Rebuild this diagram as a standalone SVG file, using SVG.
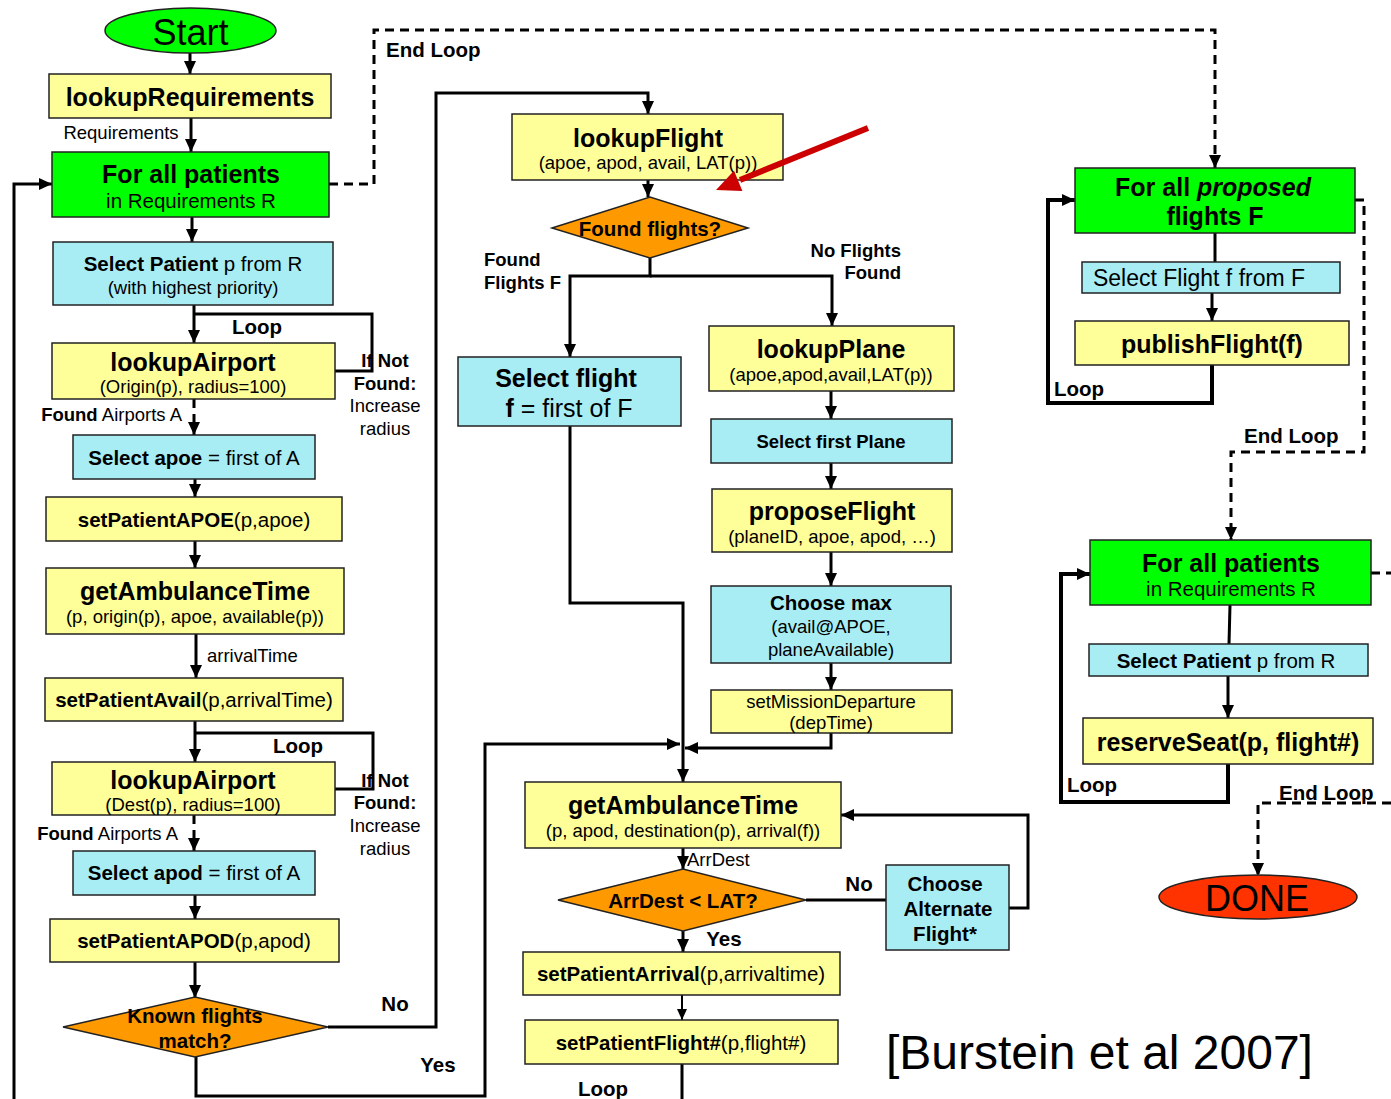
<svg xmlns="http://www.w3.org/2000/svg" width="1391" height="1099" viewBox="0 0 1391 1099">
<style>
text{font-family:"Liberation Sans",Arial,sans-serif;fill:#000;text-anchor:middle}
.b{font-weight:bold}
.n{font-weight:normal}
.f25{font-size:25px}
.f20{font-size:20.5px}
.f18{font-size:18.5px}
.st{font-size:36px}
.lft{text-anchor:start}
.rgt{text-anchor:end}
.box{stroke:#222;stroke-width:1.5}
.y{fill:#FFFF99}
.c{fill:#A9EDF4}
.g{fill:#00FF00}
.o{fill:#FF9900}
.con{fill:none;stroke:#000;stroke-width:3}
.thk{stroke-width:4}
.dash{stroke-dasharray:9 6}
</style>
<defs>
<marker id="ah" markerUnits="userSpaceOnUse" markerWidth="14" markerHeight="12" refX="13" refY="6" orient="auto">
<path d="M0,0 L13,6 L0,12 z" fill="#000"/>
</marker>
<marker id="ahs" markerUnits="userSpaceOnUse" markerWidth="12" markerHeight="10" refX="11" refY="5" orient="auto">
<path d="M0,0 L11,5 L0,10 z" fill="#000"/>
</marker>
</defs>
<rect width="1391" height="1099" fill="#fff"/>

<g id="connectors">
<line class="con" x1="190" y1="53" x2="190" y2="74" marker-end="url(#ah)"/>
<line class="con" x1="191" y1="118" x2="191" y2="152" marker-end="url(#ah)"/>
<line class="con" x1="192" y1="217" x2="192" y2="242" marker-end="url(#ah)"/>
<line class="con" x1="194" y1="305" x2="194" y2="343" marker-end="url(#ah)"/>
<path class="con" d="M194 314 H372 V371 H335"/>
<line class="con dash" x1="194" y1="399" x2="194" y2="435" marker-end="url(#ah)"/>
<line class="con" x1="195" y1="479" x2="195" y2="497" marker-end="url(#ah)"/>
<line class="con" x1="195" y1="541" x2="195" y2="568" marker-end="url(#ah)"/>
<line class="con" x1="196" y1="634" x2="196" y2="678" marker-end="url(#ah)"/>
<line class="con" x1="195" y1="721" x2="195" y2="762" marker-end="url(#ah)"/>
<path class="con" d="M195 733 H373 V789 H335"/>
<line class="con dash" x1="194" y1="815" x2="194" y2="851" marker-end="url(#ah)"/>
<line class="con" x1="195" y1="895" x2="195" y2="919" marker-end="url(#ah)"/>
<line class="con" x1="195" y1="962" x2="195" y2="998" marker-end="url(#ah)"/>
<path class="con" d="M328 1027 H436 V93 H648 V114" marker-end="url(#ah)"/>
<path class="con" d="M196 1057 V1096 H485 V744 H680" marker-end="url(#ah)"/>
<path class="con" d="M14 1099 V184 H52" marker-end="url(#ah)"/>
<path class="con dash" d="M329 184 H374 V30 H1215 V168" marker-end="url(#ah)"/>
<line class="con" x1="648" y1="180" x2="648" y2="197" marker-end="url(#ah)"/>
<path class="con" d="M650 258 V276 H570 V357" marker-end="url(#ah)"/>
<path class="con" d="M650 276 H832 V326" marker-end="url(#ah)"/>
<path class="con" d="M570 426 V603 H683 V782" marker-end="url(#ah)"/>
<line class="con" x1="831" y1="391" x2="831" y2="419" marker-end="url(#ah)"/>
<line class="con" x1="831" y1="463" x2="831" y2="489" marker-end="url(#ah)"/>
<line class="con" x1="831" y1="552" x2="831" y2="586" marker-end="url(#ah)"/>
<line class="con" x1="831" y1="663" x2="831" y2="690" marker-end="url(#ah)"/>
<path class="con" d="M831 733 V748 H685" marker-end="url(#ah)"/>
<line class="con" x1="683" y1="848" x2="683" y2="869" marker-end="url(#ah)"/>
<line class="con" x1="806" y1="900" x2="886" y2="900"/>
<path class="con" d="M1009 908 H1028 V815 H841" marker-end="url(#ah)"/>
<line class="con" x1="683" y1="931" x2="683" y2="952" marker-end="url(#ah)"/>
<line class="con" style="stroke-width:2" x1="682" y1="995" x2="682" y2="1020" marker-end="url(#ahs)"/>
<line class="con" x1="682" y1="1064" x2="682" y2="1099"/>
<line class="con" x1="1215" y1="233" x2="1215" y2="262"/>
<line class="con" x1="1212" y1="293" x2="1212" y2="321" marker-end="url(#ah)"/>
<path class="con thk" d="M1212 365 V403 H1048 V200 H1075" marker-end="url(#ah)"/>
<path class="con dash" d="M1355 200 H1364 V452 H1231 V540" marker-end="url(#ah)"/>
<line class="con" x1="1230" y1="605" x2="1229" y2="644"/>
<line class="con" x1="1228" y1="676" x2="1228" y2="718" marker-end="url(#ah)"/>
<path class="con thk" d="M1228 764 V802 H1061 V574 H1090" marker-end="url(#ah)"/>
<line class="con dash" x1="1371" y1="573" x2="1391" y2="573"/>
<path class="con dash" d="M1391 803 H1258 V876" marker-end="url(#ah)"/>
</g>

<g id="labels">
<text class="f18 n" x="121" y="139">Requirements</text>
<text class="f20 b lft" x="386" y="57">End Loop</text>
<text class="f20 b" x="257" y="334">Loop</text>
<text class="f18 b" x="385" y="367">If Not</text>
<text class="f18 b" x="385" y="390">Found:</text>
<text class="f18 n" x="385" y="412">Increase</text>
<text class="f18 n" x="385" y="435">radius</text>
<text class="f18 rgt" x="182" y="421"><tspan class="b">Found</tspan> Airports A</text>
<text class="f18 n lft" x="207" y="662">arrivalTime</text>
<text class="f20 b" x="298" y="753">Loop</text>
<text class="f18 b" x="385" y="787">If Not</text>
<text class="f18 b" x="385" y="809">Found:</text>
<text class="f18 n" x="385" y="832">Increase</text>
<text class="f18 n" x="385" y="855">radius</text>
<text class="f18 rgt" x="178" y="840"><tspan class="b">Found</tspan> Airports A</text>
<text class="f20 b" x="395" y="1011">No</text>
<text class="f20 b" x="438" y="1072">Yes</text>
<text class="f18 b lft" x="484" y="266">Found</text>
<text class="f18 b lft" x="484" y="289">Flights F</text>
<text class="f18 b rgt" x="901" y="257">No Flights</text>
<text class="f18 b rgt" x="901" y="279">Found</text>
<text class="f18 n lft" x="687" y="866">ArrDest</text>
<text class="f20 b" x="859" y="891">No</text>
<text class="f20 b" x="724" y="946">Yes</text>
<text class="f20 b" x="603" y="1096">Loop</text>
<text class="f20 b lft" x="1054" y="396">Loop</text>
<text class="f20 b lft" x="1244" y="443">End Loop</text>
<text class="f20 b lft" x="1067" y="792">Loop</text>
<text class="f20 b lft" x="1279" y="800">End Loop</text>
<text class="n lft" style="font-size:48px" x="886" y="1069">[Burstein et al 2007]</text>
</g>

<g id="start">
<ellipse cx="190.5" cy="30.5" rx="85.5" ry="22.5" fill="#00FF00" stroke="#222" stroke-width="1.5"/>
<text class="st n" x="190.5" y="45">Start</text>
</g>
<g id="lookupRequirements">
<rect class="box y" x="49" y="74" width="282" height="44"/>
<text class="f25 b" x="190" y="106">lookupRequirements</text>
</g>
<g id="forAllPatients1">
<rect class="box g" x="52" y="152" width="277" height="65"/>
<text class="f25 b" x="191" y="183">For all patients</text>
<text class="f20 n" x="191" y="208">in Requirements R</text>
</g>
<g id="selectPatient1">
<rect class="box c" x="53" y="242" width="280" height="63"/>
<text class="f20" x="193" y="271"><tspan class="b">Select Patient</tspan> p from R</text>
<text class="f18 n" x="193" y="294">(with highest priority)</text>
</g>
<g id="lookupAirport1">
<rect class="box y" x="52" y="343" width="283" height="56"/>
<text class="f25 b" x="193" y="371">lookupAirport</text>
<text class="f18 n" x="193" y="393">(Origin(p), radius=100)</text>
</g>
<g id="selectApoe">
<rect class="box c" x="73" y="435" width="242" height="44"/>
<text class="f20" x="194" y="465"><tspan class="b">Select apoe</tspan> = first of A</text>
</g>
<g id="setPatientAPOE">
<rect class="box y" x="46" y="497" width="296" height="44"/>
<text class="f20" x="194" y="527"><tspan class="b">setPatientAPOE</tspan>(p,apoe)</text>
</g>
<g id="getAmbulanceTime1">
<rect class="box y" x="46" y="568" width="298" height="66"/>
<text class="f25 b" x="195" y="600">getAmbulanceTime</text>
<text class="f18 n" x="195" y="623">(p, origin(p), apoe, available(p))</text>
</g>
<g id="setPatientAvail">
<rect class="box y" x="45" y="678" width="298" height="43"/>
<text class="f20" x="194" y="707"><tspan class="b">setPatientAvail</tspan>(p,arrivalTime)</text>
</g>
<g id="lookupAirport2">
<rect class="box y" x="52" y="762" width="283" height="53"/>
<text class="f25 b" x="193" y="789">lookupAirport</text>
<text class="f18 n" x="193" y="811">(Dest(p), radius=100)</text>
</g>
<g id="selectApod">
<rect class="box c" x="73" y="851" width="242" height="44"/>
<text class="f20" x="194" y="880"><tspan class="b">Select apod</tspan> = first of A</text>
</g>
<g id="setPatientAPOD">
<rect class="box y" x="50" y="919" width="289" height="43"/>
<text class="f20" x="194" y="948"><tspan class="b">setPatientAPOD</tspan>(p,apod)</text>
</g>
<g id="knownFlights">
<polygon class="box o" points="63,1027 195,997 328,1027 195,1057"/>
<text class="f20 b" x="195" y="1023">Known flights</text>
<text class="f20 b" x="195" y="1048">match?</text>
</g>

<g id="lookupFlight">
<rect class="box y" x="512" y="114" width="271" height="66"/>
<text class="f25 b" x="648" y="147">lookupFlight</text>
<text class="f18 n" x="648" y="169">(apoe, apod, avail, LAT(p))</text>
</g>
<g id="foundFlights">
<polygon class="box o" points="552,228 650,197 748,228 650,258"/>
<text class="f20 b" x="650" y="236">Found flights?</text>
</g>
<g id="selectFlight">
<rect class="box c" x="458" y="357" width="223" height="69"/>
<text class="f25 b" x="566" y="387">Select flight</text>
<text class="f25 n" x="569" y="417"><tspan class="b">f</tspan> = first of F</text>
</g>
<g id="lookupPlane">
<rect class="box y" x="709" y="326" width="245" height="65"/>
<text class="f25 b" x="831" y="358">lookupPlane</text>
<text class="f18 n" x="831" y="381">(apoe,apod,avail,LAT(p))</text>
</g>
<g id="selectFirstPlane">
<rect class="box c" x="711" y="419" width="241" height="44"/>
<text class="f18 b" x="831" y="448">Select first Plane</text>
</g>
<g id="proposeFlight">
<rect class="box y" x="712" y="489" width="240" height="63"/>
<text class="f25 b" x="832" y="520">proposeFlight</text>
<text class="f18 n" x="832" y="543">(planeID, apoe, apod, …)</text>
</g>
<g id="chooseMax">
<rect class="box c" x="711" y="586" width="240" height="77"/>
<text class="f20 b" x="831" y="610">Choose max</text>
<text class="f18 n" x="831" y="633">(avail@APOE,</text>
<text class="f18 n" x="831" y="656">planeAvailable)</text>
</g>
<g id="setMissionDeparture">
<rect class="box y" x="711" y="690" width="241" height="43"/>
<text class="f18 n" x="831" y="708">setMissionDeparture</text>
<text class="f18 n" x="831" y="729">(depTime)</text>
</g>
<g id="getAmbulanceTime2">
<rect class="box y" x="525" y="782" width="316" height="66"/>
<text class="f25 b" x="683" y="814">getAmbulanceTime</text>
<text class="f18 n" x="683" y="837">(p, apod, destination(p), arrival(f))</text>
</g>
<g id="arrDestLAT">
<polygon class="box o" points="558,900 683,869 806,900 683,931"/>
<text class="f20 b" x="683" y="908">ArrDest &lt; LAT?</text>
</g>
<g id="chooseAlternate">
<rect class="box c" x="886" y="865" width="123" height="85"/>
<text class="f20 b" x="945" y="891">Choose</text>
<text class="f20 b" x="948" y="916">Alternate</text>
<text class="f20 b" x="945" y="941">Flight*</text>
</g>
<g id="setPatientArrival">
<rect class="box y" x="523" y="952" width="317" height="43"/>
<text class="f20" x="681" y="981"><tspan class="b">setPatientArrival</tspan>(p,arrivaltime)</text>
</g>
<g id="setPatientFlight">
<rect class="box y" x="525" y="1020" width="313" height="44"/>
<text class="f20" x="681" y="1050"><tspan class="b">setPatientFlight#</tspan>(p,flight#)</text>
</g>

<g id="forAllProposed">
<rect class="box g" x="1075" y="168" width="280" height="65"/>
<text class="f25 b" x="1213" y="196">For all <tspan font-style="italic">proposed</tspan></text>
<text class="f25 b" x="1215" y="225">flights F</text>
</g>
<g id="selectFlightF">
<rect class="box c" x="1082" y="262" width="258" height="31"/>
<text class="n" style="font-size:23px" x="1199" y="286">Select Flight f from F</text>
</g>
<g id="publishFlight">
<rect class="box y" x="1075" y="321" width="274" height="44"/>
<text class="f25 b" x="1212" y="353">publishFlight(f)</text>
</g>
<g id="forAllPatients2">
<rect class="box g" x="1090" y="540" width="281" height="65"/>
<text class="f25 b" x="1231" y="572">For all patients</text>
<text class="f20 n" x="1231" y="596">in Requirements R</text>
</g>
<g id="selectPatient2">
<rect class="box c" x="1089" y="644" width="279" height="32"/>
<text class="f20" x="1226" y="668"><tspan class="b">Select Patient</tspan> p from R</text>
</g>
<g id="reserveSeat">
<rect class="box y" x="1083" y="718" width="290" height="46"/>
<text class="f25 b" x="1228" y="751">reserveSeat(p, flight#)</text>
</g>
<g id="done">
<ellipse cx="1258" cy="897" rx="99" ry="22" fill="#FF3300" stroke="#222" stroke-width="1.5"/>
<text class="st n" x="1257" y="911">DONE</text>
</g>

<g id="red-arrow">
<line x1="868" y1="128" x2="740" y2="180" stroke="#CC0000" stroke-width="6"/>
<polygon points="716,190 742.4,191.1 734,170.7" fill="#CC0000"/>
</g>
</svg>
